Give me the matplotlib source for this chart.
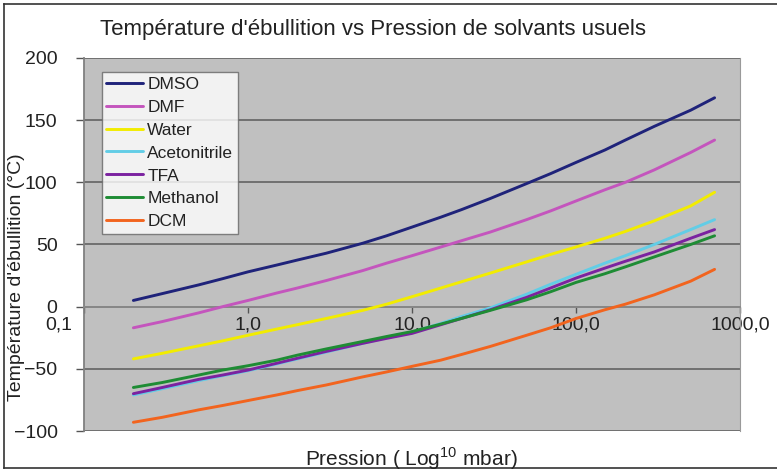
import matplotlib
matplotlib.use("Agg")
import matplotlib.pyplot as plt
import matplotlib.lines as mlines
import matplotlib.transforms as mtransforms

plt.rcParams["font.family"] = ["Liberation Sans", "DejaVu Sans"]
plt.rcParams["mathtext.fontset"] = "custom"
plt.rcParams["mathtext.rm"] = "Liberation Sans"

# ---------------------------------------------------------------------------
# Data
# ---------------------------------------------------------------------------
pression = [0.2, 0.3, 0.5, 0.7, 1, 1.5, 2, 3, 5, 7, 10,
            15, 20, 30, 50, 70, 100, 150, 200, 300, 500, 700]

dmso = [5, 10.5, 17.5, 22.5, 28, 33.5, 37.5, 43, 51, 57, 64,
        72, 78, 87, 99, 107, 116, 126, 134, 145, 158, 168]
dmf = [-17, -12, -5, 0, 5, 11, 15, 21, 29, 35, 41,
       48, 53, 60, 70, 77, 85, 94, 100, 110, 124, 134]
water = [-42, -37.5, -31.5, -27.5, -23, -18, -14.5, -9.5, -3, 2, 8,
         15, 20, 27, 36, 42, 48, 55, 60.5, 69, 81, 92]
acetonitrile = [-71, -66, -59.5, -55.5, -51.5, -46, -42, -36.5, -29.5, -25, -20.5,
                -13.5, -8, -1, 10, 18, 26, 35, 41, 50, 62, 70]
tfa = [-70, -65, -58.5, -55, -51, -45.5, -41.5, -36, -29.5, -25.5, -21.5,
       -14.5, -9.5, -2.5, 7.5, 15, 23, 31, 36.5, 44, 55, 62]
methanol = [-65, -61, -55, -51, -47.5, -43, -39, -34, -28, -24, -20,
            -14, -9.5, -3, 5.5, 12, 19.5, 26.5, 32, 40, 50, 57]
dcm = [-93, -89, -83, -79.5, -75.5, -71, -67.5, -63, -56.5, -52.5, -48,
       -43, -38.5, -32, -23, -17, -9.5, -2.5, 2, 9.5, 20.5, 30]

series = [
    ("DMSO", dmso, "#1f237a"),
    ("DMF", dmf, "#c455bd"),
    ("Water", water, "#f2ec00"),
    ("Acetonitrile", acetonitrile, "#62cde6"),
    ("TFA", tfa, "#7b22a0"),
    ("Methanol", methanol, "#1e8c34"),
    ("DCM", dcm, "#f2641e"),
]

x_ticks = [0.1, 1, 10, 100, 1000]
x_ticklabels = ["0,1", "1,0", "10,0", "100,0", "1000,0"]
y_ticks = [-100, -50, 0, 50, 100, 150, 200]

# ---------------------------------------------------------------------------
# Figure
# ---------------------------------------------------------------------------
fig = plt.figure(figsize=(7.77, 4.72), dpi=100)
ax = fig.add_axes([84 / 777, 1 - 431 / 472, 656 / 777, 373 / 472])
ax.set_facecolor("#c0c0c0")

# outer chart border (the right edge is cropped in the original)
W, H = 777, 472
border = [((4 / W, 4 / W), (4 / H, 468 / H)),
          ((4 / W, 1.0), (468 / H, 468 / H)),
          ((4 / W, 1.0), (4 / H, 4 / H))]
for xs, ys in border:
    fig.add_artist(mlines.Line2D(xs, ys, transform=fig.transFigure,
                                 color="#333333", linewidth=1.2))

for yv in y_ticks:
    ax.axhline(yv, color="#6a6a6a", linewidth=1.3, zorder=1)

for label, vals, color in series:
    ax.plot(pression, vals, color=color, linewidth=2.1, label=label, zorder=3,
            solid_capstyle="round")

ax.set_xscale("log")
ax.set_xlim(0.1, 1000)
ax.set_ylim(-100, 200)

ax.spines["top"].set_visible(False)
ax.spines["right"].set_color("#9a9a9a")
ax.spines["left"].set_color("#808080")
ax.spines["left"].set_linewidth(1.3)
ax.spines["bottom"].set_position(("data", 0))
ax.spines["bottom"].set_color("#8a8a8a")
ax.spines["bottom"].set_linewidth(1.3)

ax.set_xticks(x_ticks)
ax.set_xticklabels(x_ticklabels)
ax.xaxis.set_minor_locator(matplotlib.ticker.NullLocator())
ax.set_yticks(y_ticks)
ax.tick_params(axis="x", direction="out", length=4, width=1, color="#555555",
               labelsize=14, pad=3, labelcolor="#222222")
ax.tick_params(axis="y", direction="out", length=6, width=1, color="#555555",
               labelsize=14, pad=13, labelcolor="#222222")
# first x label sits left of the axis in the original
first = ax.get_xticklabels()[0]
first.set_transform(first.get_transform() +
                    mtransforms.ScaledTranslation(-0.25, 0, fig.dpi_scale_trans))

ax.set_ylabel("Température d'ébullition (°C)", fontsize=14, color="#222222")
ax.yaxis.set_label_coords(-0.09, 0.413)
fig.text(411 / W, 1 - 459 / H, "Pression ( Log$^{10}$ mbar)", fontsize=15,
         ha="center", va="center", color="#222222")
fig.text(373 / W, 1 - 30 / H, "Température d'ébullition vs Pression de solvants usuels",
         fontsize=16, ha="center", va="center", color="#222222")

leg = ax.legend(loc="upper left", bbox_to_anchor=(0.0275, 0.962), borderaxespad=0,
                fontsize=12.5, frameon=True, fancybox=False, edgecolor="#666666",
                handlelength=2.1, handletextpad=0.25, labelspacing=0.45,
                borderpad=0.25)
leg.get_frame().set_linewidth(1.0)
for txt in leg.get_texts():
    txt.set_color("#222222")

fig.savefig("out.png", dpi=100)
